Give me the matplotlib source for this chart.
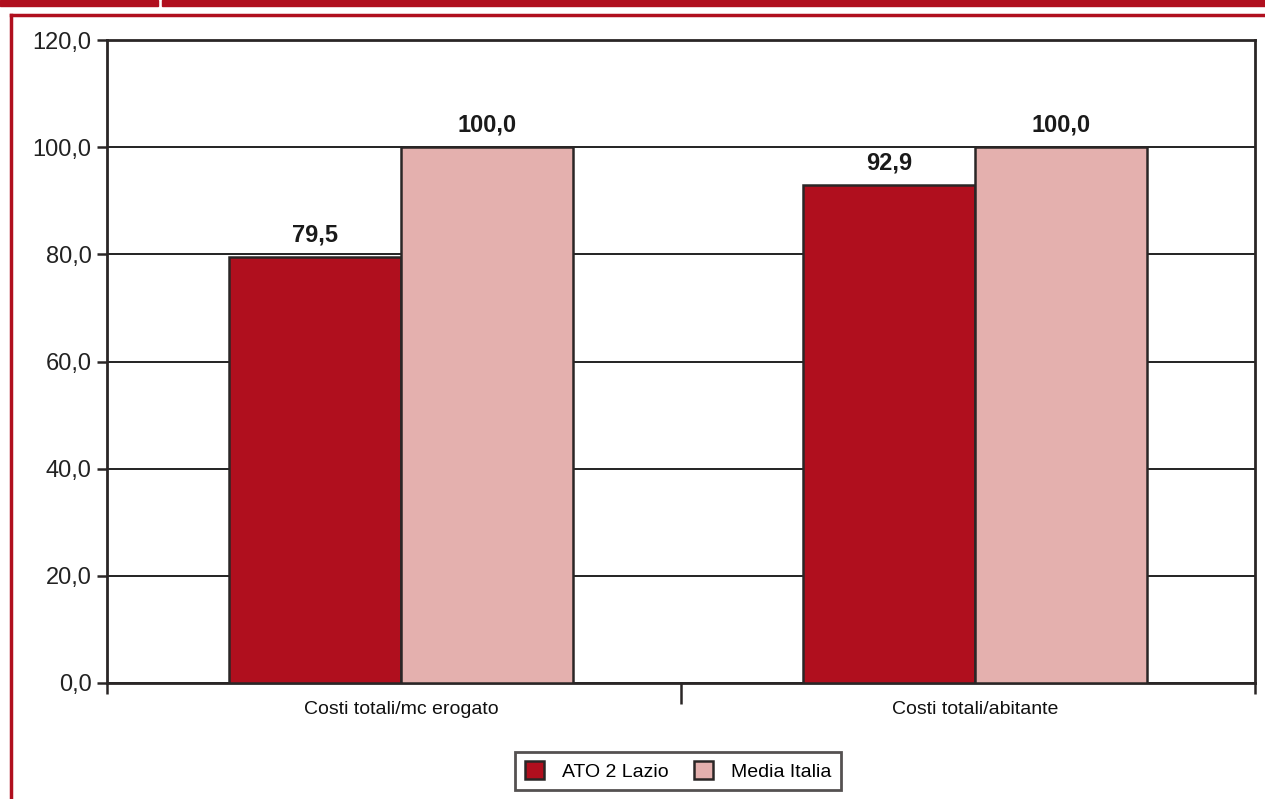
import matplotlib.pyplot as plt
from matplotlib.patches import Rectangle
from matplotlib.lines import Line2D
import numpy as np

categories = ["Costi totali/mc erogato", "Costi totali/abitante"]
ato_values = [79.5, 92.9]
italia_values = [100.0, 100.0]
series_names = ["ATO 2 Lazio", "Media Italia"]
y_ticks = [0, 20, 40, 60, 80, 100, 120]

RED = "#B00F1E"
PINK = "#E4B0AE"
EDGE = "#2A2626"

plt.rcParams['font.family'] = ['Liberation Sans', 'DejaVu Sans']

fig = plt.figure(figsize=(12.65, 7.99), dpi=100)
W, H = 1265, 799

# page decoration: top band and red frame
fig.patches.append(Rectangle((0, 1 - 6 / H), 158 / W, 6 / H, transform=fig.transFigure, color=RED, zorder=0))
fig.patches.append(Rectangle((162 / W, 1 - 6 / H), 1, 6 / H, transform=fig.transFigure, color=RED, zorder=0))
fig.lines.append(Line2D([11 / W, 1], [1 - 15 / H, 1 - 15 / H], transform=fig.transFigure, color=RED, lw=2.5))
fig.lines.append(Line2D([11 / W, 11 / W], [0, 1 - 15 / H], transform=fig.transFigure, color=RED, lw=2.5))

ax = fig.add_axes([107 / W, 1 - 683 / H, (1255 - 107) / W, (683 - 40) / H])

x = np.arange(len(categories))
width = 0.3
shift = 0.012
b1 = ax.bar(x - width / 2 + shift, ato_values, width, color=RED, edgecolor=EDGE, linewidth=1.8,
            label=series_names[0], zorder=3)
b2 = ax.bar(x + width / 2 + shift, italia_values, width, color=PINK, edgecolor=EDGE, linewidth=1.8,
            label=series_names[1], zorder=3)

for bars, vals in ((b1, ato_values), (b2, italia_values)):
    for rect, v in zip(bars, vals):
        ax.text(rect.get_x() + rect.get_width() / 2, v + 2.9, f"{v:.1f}".replace(".", ","),
                ha="center", va="baseline", fontsize=17, fontweight="bold", color="#1a1a1a")

ax.set_xlim(-0.5, 1.5)
ax.set_ylim(0, 120)
ax.set_yticks(y_ticks)
ax.set_yticklabels([f"{t:.1f}".replace(".", ",") for t in y_ticks], fontsize=17, color="#222222")
ax.yaxis.grid(True, color="#111111", linewidth=1.3, zorder=0)
ax.set_axisbelow(True)

# category separators as major ticks, names as minor tick labels
ax.set_xticks([-0.5, 0.5, 1.5])
ax.set_xticklabels([])
ax.set_xticks(x + shift, minor=True)
ax.set_xticklabels(categories, minor=True, fontsize=14, color="#111111")
ax.tick_params(axis="x", which="minor", length=0, pad=13)
ax.tick_params(axis="x", which="major", length=8, width=1.8, color=EDGE, direction="out")
ax.xaxis.get_major_ticks()[1].tick1line.set_markersize(15)
ax.tick_params(axis="y", length=7, width=1.8, color=EDGE, pad=4)

for s in ax.spines.values():
    s.set_color(EDGE)
    s.set_linewidth(2)

leg = fig.legend(handles=[b1, b2], labels=series_names, loc="center", bbox_to_anchor=(678 / W, 1 - 771 / H),
                 ncol=2, frameon=True, fancybox=False, fontsize=14, handlelength=1.0, handleheight=1.0,
                 columnspacing=1.3, handletextpad=0.9, borderpad=0.5, borderaxespad=0)
leg.get_frame().set_edgecolor(EDGE)
leg.get_frame().set_linewidth(2)

fig.savefig("out.png", dpi=100)
